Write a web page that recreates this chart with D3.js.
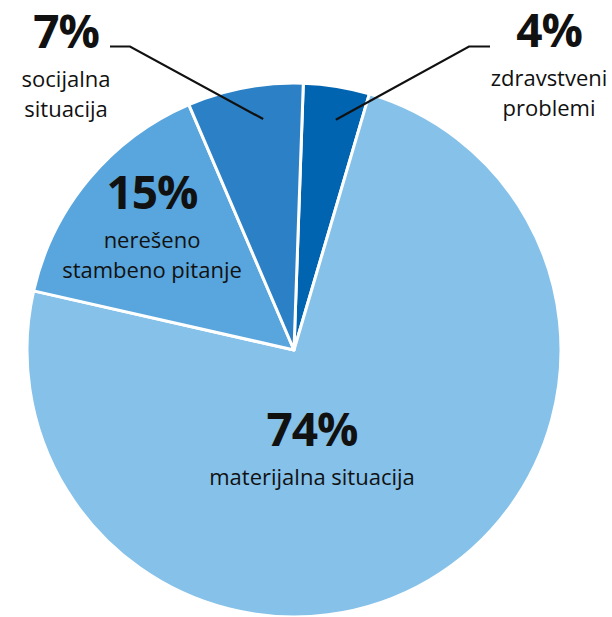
<!DOCTYPE html>
<html>
<head>
<meta charset="utf-8">
<script src="https://cdn.jsdelivr.net/npm/d3@7"></script>
<style>
  html, body { margin: 0; padding: 0; background: #fff; }
  svg { display: block; }
  text { font-family: "Open Sans", "Noto Sans", sans-serif; fill: #111; }
  .pct { font-weight: 700; }
</style>
</head>
<body>
<svg id="chart"></svg>
<script>
// data, clockwise from the top
const categories = ["zdravstveni problemi", "materijalna situacija", "nerešeno stambeno pitanje", "socijalna situacija"];
const values = [4, 74, 15, 7];
const labelLines = [
  ["zdravstveni", "problemi"],
  ["materijalna situacija"],
  ["nerešeno", "stambeno pitanje"],
  ["socijalna", "situacija"],
];
const colors = ["#0064b0", "#85c1e9", "#58a6dd", "#2b80c6"];

const chartSettings = {
  width: 612,
  height: 617,
  cx: 294,
  cy: 350,
  radius: 267,
  startDeg: 2,
  pctSize: 46,
  textSize: 22,
  lineHeight: 30,
};

// label anchors (centre x, baseline of the percent) and leader lines
const labelLayout = [
  { x: 549, y: 47, leader: { from: [490, 46.5], elbow: [469, 46.5], angle: 10.3, r: 234 } },
  { x: 312, y: 446, leader: null },
  { x: 152, y: 209, leader: null },
  { x: 66, y: 48, leader: { from: [110, 46.5], elbow: [130, 46.5], angle: -7.6, r: 233 } },
];

const { width, height, cx, cy, radius } = chartSettings;
const svg = d3.select("#chart").attr("width", width).attr("height", height);
const g = svg.append("g").attr("transform", `translate(${cx},${cy})`);

const start = (chartSettings.startDeg * Math.PI) / 180;
const pie = d3.pie().sort(null).startAngle(start).endAngle(start + 2 * Math.PI);
const arc = d3.arc().innerRadius(0).outerRadius(radius);
const colorScale = d3.scaleOrdinal().domain(categories).range(colors);

const arcs = pie(values.map((v, i) => ({ value: v, name: categories[i] })).map(d => d.value));

g.selectAll("path.slice")
  .data(arcs)
  .join("path")
  .attr("class", "slice")
  .attr("d", arc)
  .attr("fill", (d, i) => colorScale(categories[i]))
  .attr("stroke", "#fff")
  .attr("stroke-width", 3)
  .attr("stroke-linejoin", "round");

// leader lines
labelLayout.forEach((l) => {
  if (!l.leader) return;
  const a = (l.leader.angle * Math.PI) / 180;
  const end = [cx + l.leader.r * Math.sin(a), cy - l.leader.r * Math.cos(a)];
  svg.append("polyline")
    .attr("points", [l.leader.from, l.leader.elbow, end].map(p => p.join(",")).join(" "))
    .attr("fill", "none")
    .attr("stroke", "#111")
    .attr("stroke-width", 2.2);
});

// labels
const labels = svg.selectAll("g.label")
  .data(values)
  .join("g")
  .attr("class", "label")
  .attr("transform", (d, i) => `translate(${labelLayout[i].x},${labelLayout[i].y})`);

labels.append("text")
  .attr("class", "pct")
  .attr("text-anchor", "middle")
  .attr("font-size", chartSettings.pctSize)
  .attr("letter-spacing", -1)
  .text(d => `${d}%`);

labels.each(function (d, i) {
  const sel = d3.select(this);
  labelLines[i].forEach((line, j) => {
    sel.append("text")
      .attr("text-anchor", "middle")
      .attr("y", 39 + j * chartSettings.lineHeight)
      .attr("font-size", chartSettings.textSize)
      .text(line);
  });
});
</script>
</body>
</html>
